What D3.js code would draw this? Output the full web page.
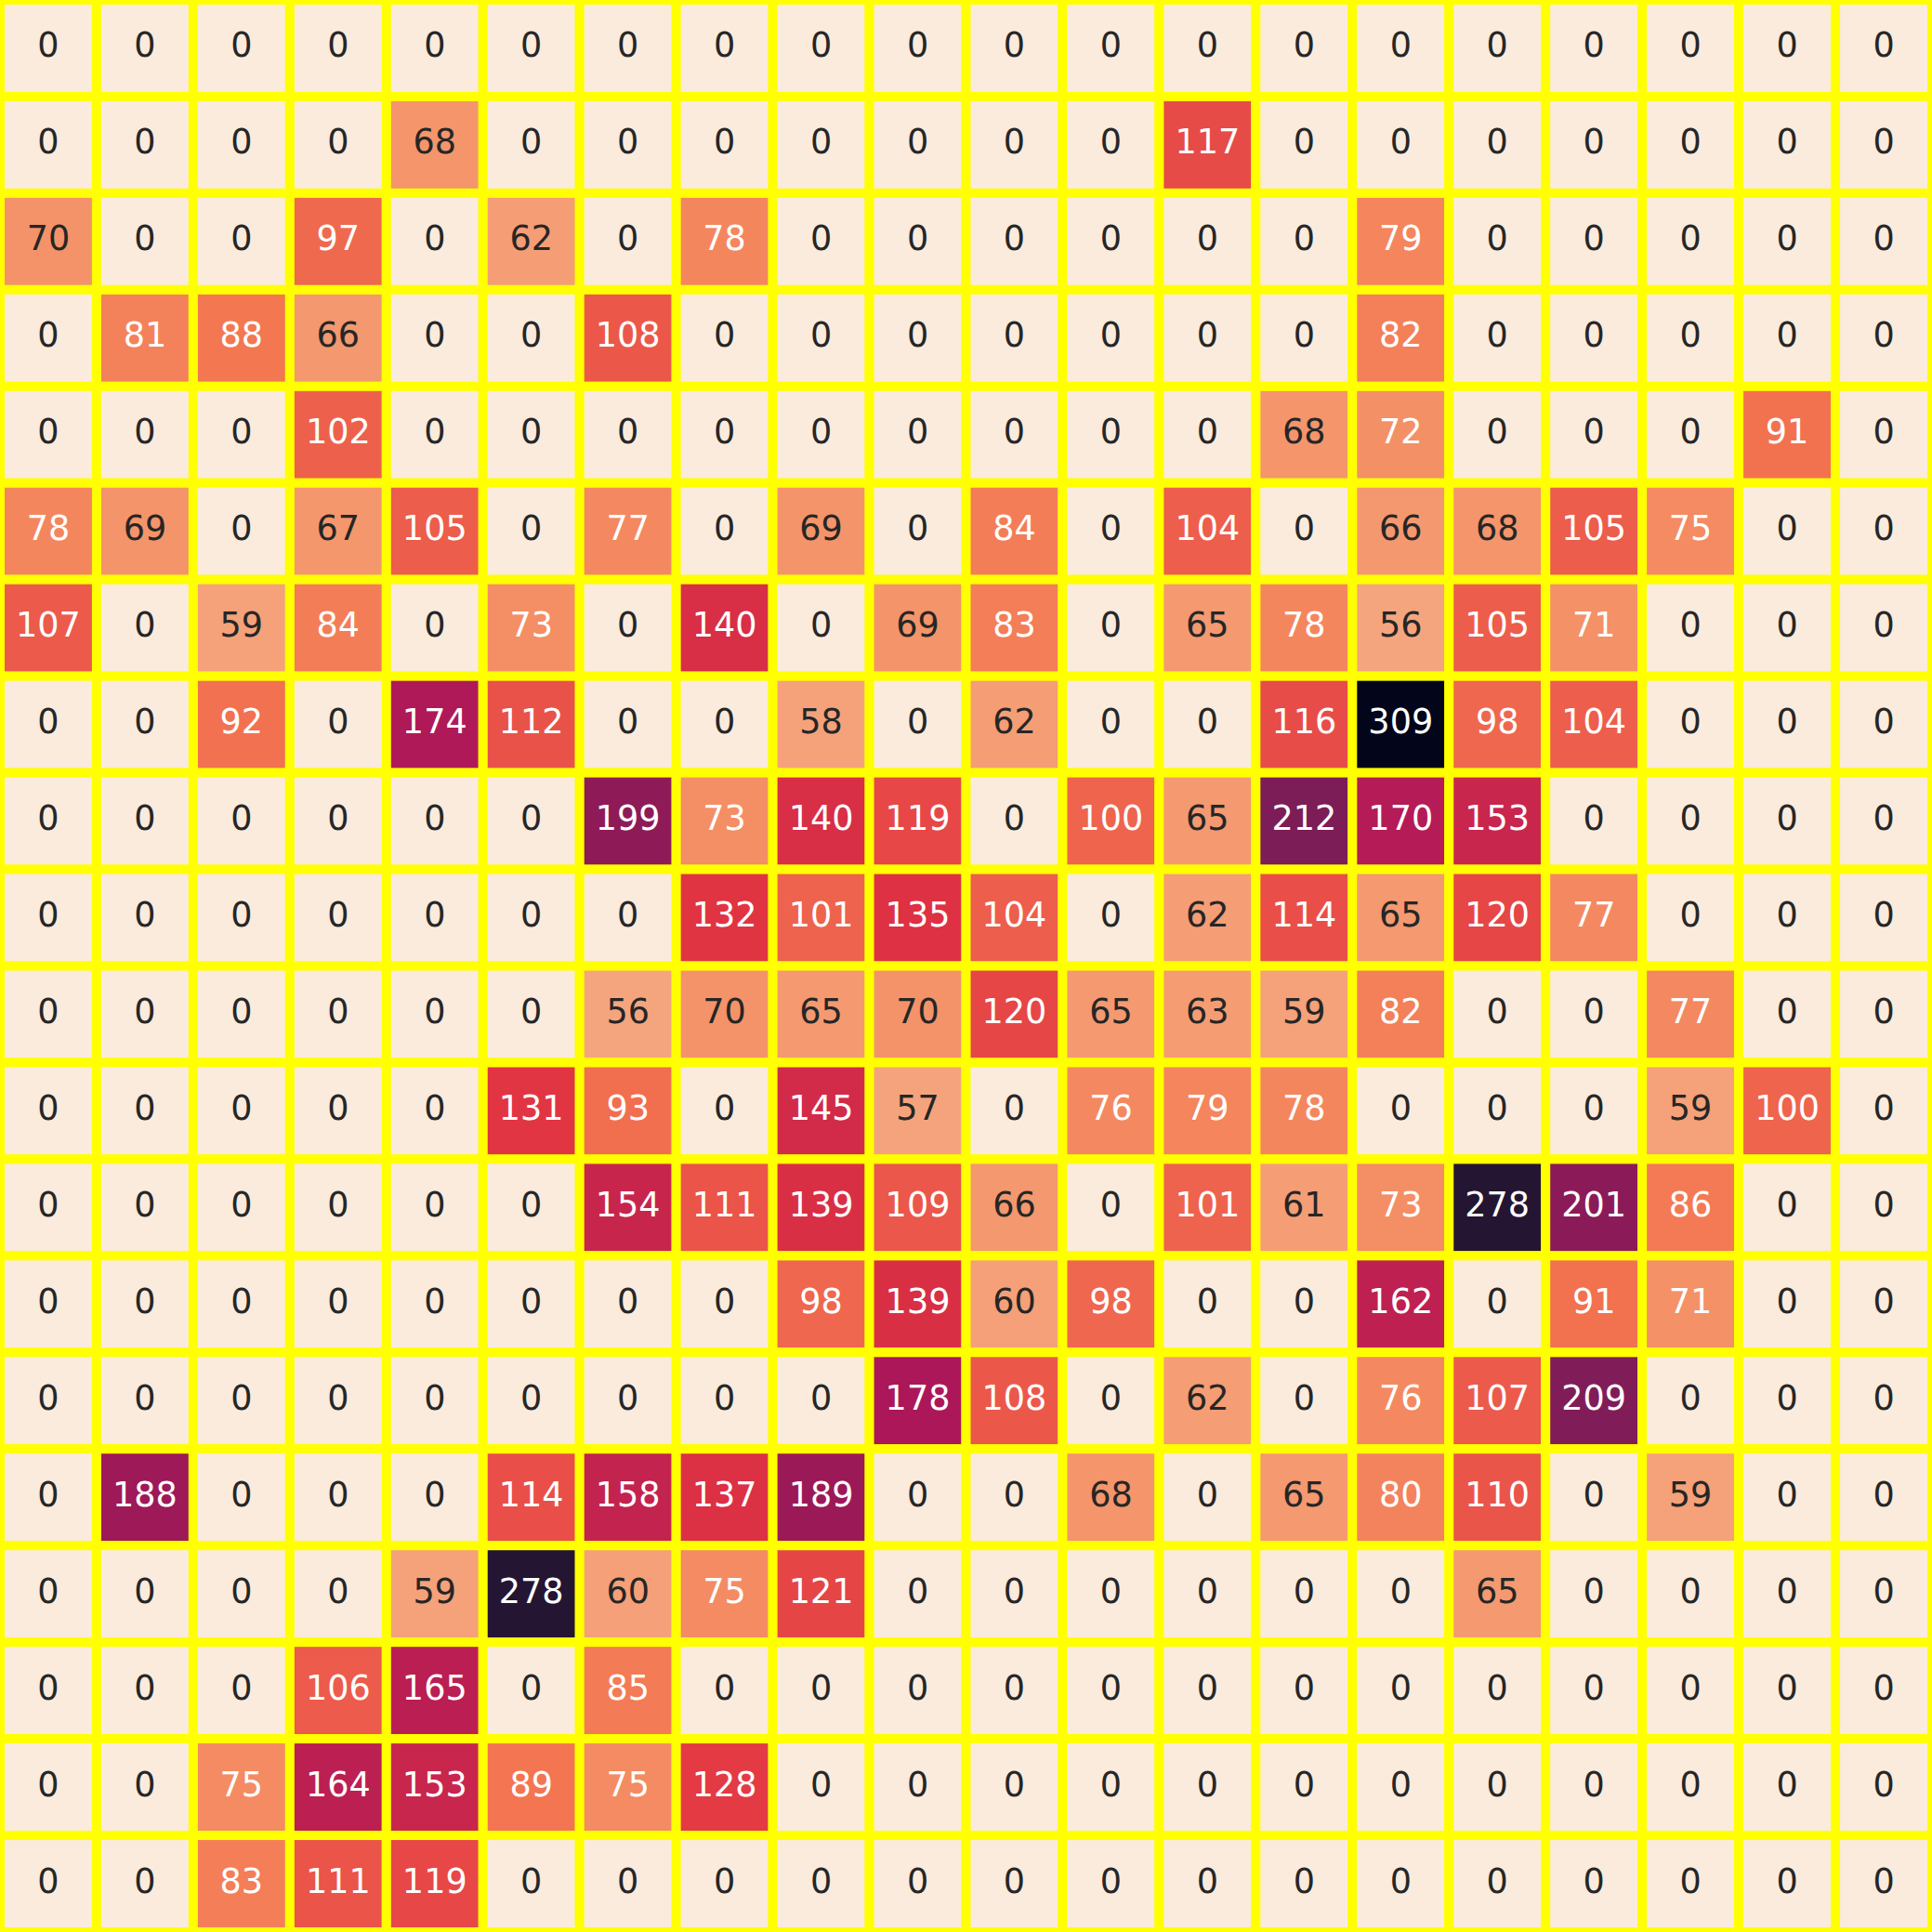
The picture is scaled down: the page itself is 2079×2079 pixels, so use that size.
<!DOCTYPE html>
<html>
<head>
<meta charset="utf-8">
<script src="https://cdn.jsdelivr.net/npm/d3@7"></script>
<style>
  html, body { margin: 0; padding: 0; background: #ffffff; }
  svg { display: block; }
</style>
</head>
<body>
<svg id="chart"></svg>
<script>
// ---- data ----
const rowLabels = d3.range(20).map(String);
const colLabels = d3.range(20).map(String);
const row0  = [0,0,0,0,0,0,0,0,0,0,0,0,0,0,0,0,0,0,0,0];
const row1  = [0,0,0,0,68,0,0,0,0,0,0,0,117,0,0,0,0,0,0,0];
const row2  = [70,0,0,97,0,62,0,78,0,0,0,0,0,0,79,0,0,0,0,0];
const row3  = [0,81,88,66,0,0,108,0,0,0,0,0,0,0,82,0,0,0,0,0];
const row4  = [0,0,0,102,0,0,0,0,0,0,0,0,0,68,72,0,0,0,91,0];
const row5  = [78,69,0,67,105,0,77,0,69,0,84,0,104,0,66,68,105,75,0,0];
const row6  = [107,0,59,84,0,73,0,140,0,69,83,0,65,78,56,105,71,0,0,0];
const row7  = [0,0,92,0,174,112,0,0,58,0,62,0,0,116,309,98,104,0,0,0];
const row8  = [0,0,0,0,0,0,199,73,140,119,0,100,65,212,170,153,0,0,0,0];
const row9  = [0,0,0,0,0,0,0,132,101,135,104,0,62,114,65,120,77,0,0,0];
const row10 = [0,0,0,0,0,0,56,70,65,70,120,65,63,59,82,0,0,77,0,0];
const row11 = [0,0,0,0,0,131,93,0,145,57,0,76,79,78,0,0,0,59,100,0];
const row12 = [0,0,0,0,0,0,154,111,139,109,66,0,101,61,73,278,201,86,0,0];
const row13 = [0,0,0,0,0,0,0,0,98,139,60,98,0,0,162,0,91,71,0,0];
const row14 = [0,0,0,0,0,0,0,0,0,178,108,0,62,0,76,107,209,0,0,0];
const row15 = [0,188,0,0,0,114,158,137,189,0,0,68,0,65,80,110,0,59,0,0];
const row16 = [0,0,0,0,59,278,60,75,121,0,0,0,0,0,0,65,0,0,0,0];
const row17 = [0,0,0,106,165,0,85,0,0,0,0,0,0,0,0,0,0,0,0,0];
const row18 = [0,0,75,164,153,89,75,128,0,0,0,0,0,0,0,0,0,0,0,0];
const row19 = [0,0,83,111,119,0,0,0,0,0,0,0,0,0,0,0,0,0,0,0];
const rows = [row0,row1,row2,row3,row4,row5,row6,row7,row8,row9,
              row10,row11,row12,row13,row14,row15,row16,row17,row18,row19];

// ---- style: rocket colormap stops (dark -> light), used reversed ----
const rocketPos = [0.000, 0.100, 0.143, 0.286, 0.429, 0.571, 0.714, 0.7718, 0.857, 1.000];
const rocketCol = ["#03051a", "#241533", "#35193e", "#701f57", "#ad1759",
                   "#e13342", "#f37651", "#f49268", "#f6b48f", "#faebdd"];

const W = 2079, H = 2079;
const svg = d3.select("#chart").attr("width", W).attr("height", H);

const x = d3.scaleBand().domain(colLabels).range([0, W]).padding(0);
const y = d3.scaleBand().domain(rowLabels).range([0, H]).padding(0);

const vmin = 0, vmax = d3.max(rows.flat());
const rocket = d3.scaleLinear().domain(rocketPos).range(rocketCol)
  .interpolate(d3.interpolateRgb).clamp(true);
const norm = d3.scaleLinear().domain([vmin, vmax]).range([1, 0]); // reversed
const color = v => rocket(norm(v));

function relLum(c) {
  const rgb = d3.rgb(c);
  const lin = u => { u /= 255; return u <= 0.03928 ? u / 12.92 : Math.pow((u + 0.055) / 1.055, 2.4); };
  return 0.2126 * lin(rgb.r) + 0.7152 * lin(rgb.g) + 0.0722 * lin(rgb.b);
}

const cells = [];
rows.forEach((r, i) => r.forEach((v, j) => cells.push({ row: rowLabels[i], col: colLabels[j], v })));

svg.append("rect").attr("width", W).attr("height", H).attr("fill", "#ffff00");

svg.append("g").selectAll("rect").data(cells).join("rect")
  .attr("x", d => x(d.col))
  .attr("y", d => y(d.row))
  .attr("width", x.bandwidth())
  .attr("height", y.bandwidth())
  .attr("fill", d => color(d.v))
  .attr("stroke", "#ffff00")
  .attr("stroke-width", 10);

const fs = 36.6;
svg.append("g").selectAll("text").data(cells).join("text")
  .attr("x", d => x(d.col) + x.bandwidth() / 2)
  .attr("y", d => y(d.row) + y.bandwidth() / 2 + fs * 0.26)
  .attr("text-anchor", "middle")
  .attr("font-family", "'DejaVu Sans', sans-serif")
  .attr("font-size", fs)
  .attr("fill", d => relLum(color(d.v)) > 0.408 ? "#262626" : "#ffffff")
  .text(d => d.v);
</script>
</body>
</html>
